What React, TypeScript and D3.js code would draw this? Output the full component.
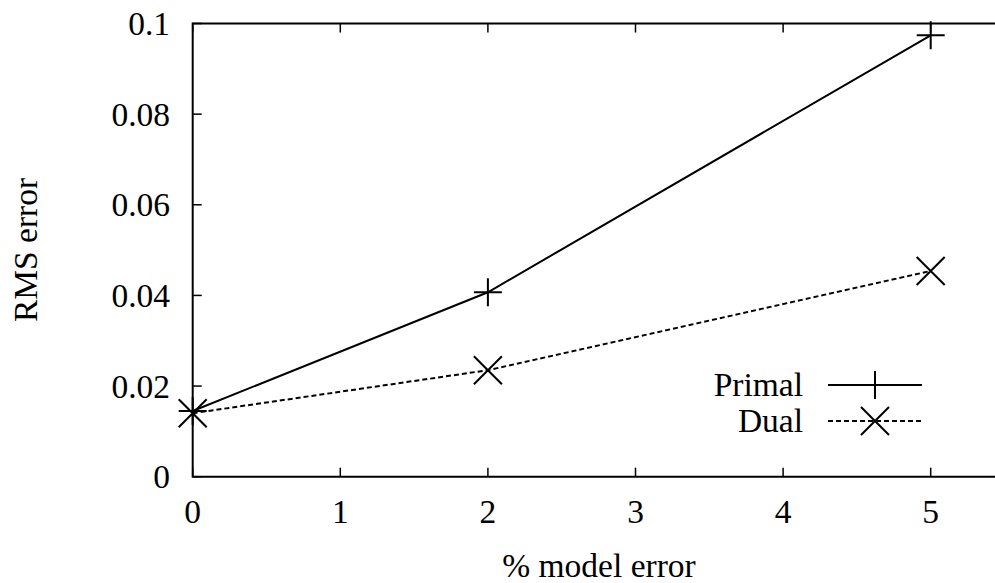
import React from "react";
import * as d3 from "d3";

const xValues = [0, 2, 5];
const primal = [0.0145, 0.0407, 0.0974];
const dual = [0.014, 0.0235, 0.0454];
const xTicks = [0, 1, 2, 3, 4, 5];
const yTicks = [0, 0.02, 0.04, 0.06, 0.08, 0.1];
const yTickLabels = ["0", "0.02", "0.04", "0.06", "0.08", "0.1"];
const seriesNames = ["Primal", "Dual"];

const W = 995, H = 583;
const left = 192.7, top = 23.5, bottom = 476.7;

export default function App() {
  const x = d3.scaleLinear().domain([0, 5]).range([left, 930.7]);
  const y = d3.scaleLinear().domain([0, 0.1]).range([bottom, top]);
  const right = x(5.5);
  const line = d3.line<number>().x((_, i) => x(xValues[i])).y((d) => y(d));
  const font = "'Liberation Serif', 'Times New Roman', serif";
  const fs = 33.5;
  const ms = 14;
  const plus = (cx: number, cy: number, k: string) => (
    <path key={k} d={`M${cx - ms},${cy}H${cx + ms}M${cx},${cy - ms}V${cy + ms}`} stroke="#000" strokeWidth={2} fill="none" />
  );
  const cross = (cx: number, cy: number, k: string) => (
    <path key={k} d={`M${cx - ms},${cy - ms}L${cx + ms},${cy + ms}M${cx - ms},${cy + ms}L${cx + ms},${cy - ms}`} stroke="#000" strokeWidth={2} fill="none" />
  );
  const legX1 = 828, legX2 = 922, legMid = 875, legText = 803;
  const legY = [385, 421];
  return (
    <div style={{ position: "absolute", left: 0, top: 0, width: W, height: H, overflow: "hidden" }}>
      <svg width={W} height={H} style={{ display: "block", background: "#fff" }} fontFamily={font}>
        <rect x={0} y={0} width={W} height={H} fill="#fff" />
        {/* frame */}
        <path d={`M${left},${top}H${right}V${bottom}H${left}Z`} fill="none" stroke="#000" strokeWidth={2} />
        {/* x ticks */}
        {xTicks.map((t) => (
          <g key={"x" + t}>
            <line x1={x(t)} x2={x(t)} y1={bottom} y2={bottom - 9} stroke="#000" strokeWidth={1.5} />
            <line x1={x(t)} x2={x(t)} y1={top} y2={top + 9} stroke="#000" strokeWidth={1.5} />
            <text x={x(t)} y={523} textAnchor="middle" fontSize={fs}>{t}</text>
          </g>
        ))}
        {/* y ticks */}
        {yTicks.map((t, i) => (
          <g key={"y" + t}>
            <line x1={left} x2={left + 9} y1={y(t)} y2={y(t)} stroke="#000" strokeWidth={1.5} />
            <line x1={right} x2={right - 9} y1={y(t)} y2={y(t)} stroke="#000" strokeWidth={1.5} />
            <text x={170} y={y(t) + 11.5} textAnchor="end" fontSize={fs}>{yTickLabels[i]}</text>
          </g>
        ))}
        <text x={599} y={577} textAnchor="middle" fontSize={fs}>% model error</text>
        <text transform={`translate(37,250) rotate(-90)`} textAnchor="middle" fontSize={fs}>RMS error</text>
        {/* series */}
        <path d={line(primal) || ""} fill="none" stroke="#000" strokeWidth={2} />
        <path d={line(dual) || ""} fill="none" stroke="#000" strokeWidth={2} strokeDasharray="5,3" />
        {primal.map((v, i) => plus(x(xValues[i]), y(v), "p" + i))}
        {dual.map((v, i) => cross(x(xValues[i]), y(v), "d" + i))}
        {/* legend */}
        <text x={legText} y={legY[0] + 11} textAnchor="end" fontSize={fs}>{seriesNames[0]}</text>
        <line x1={legX1} x2={legX2} y1={legY[0]} y2={legY[0]} stroke="#000" strokeWidth={2} />
        {plus(legMid, legY[0], "lp")}
        <text x={legText} y={legY[1] + 11} textAnchor="end" fontSize={fs}>{seriesNames[1]}</text>
        <line x1={legX1} x2={legX2} y1={legY[1]} y2={legY[1]} stroke="#000" strokeWidth={2} strokeDasharray="5,3" />
        {cross(legMid, legY[1], "ld")}
      </svg>
    </div>
  );
}
